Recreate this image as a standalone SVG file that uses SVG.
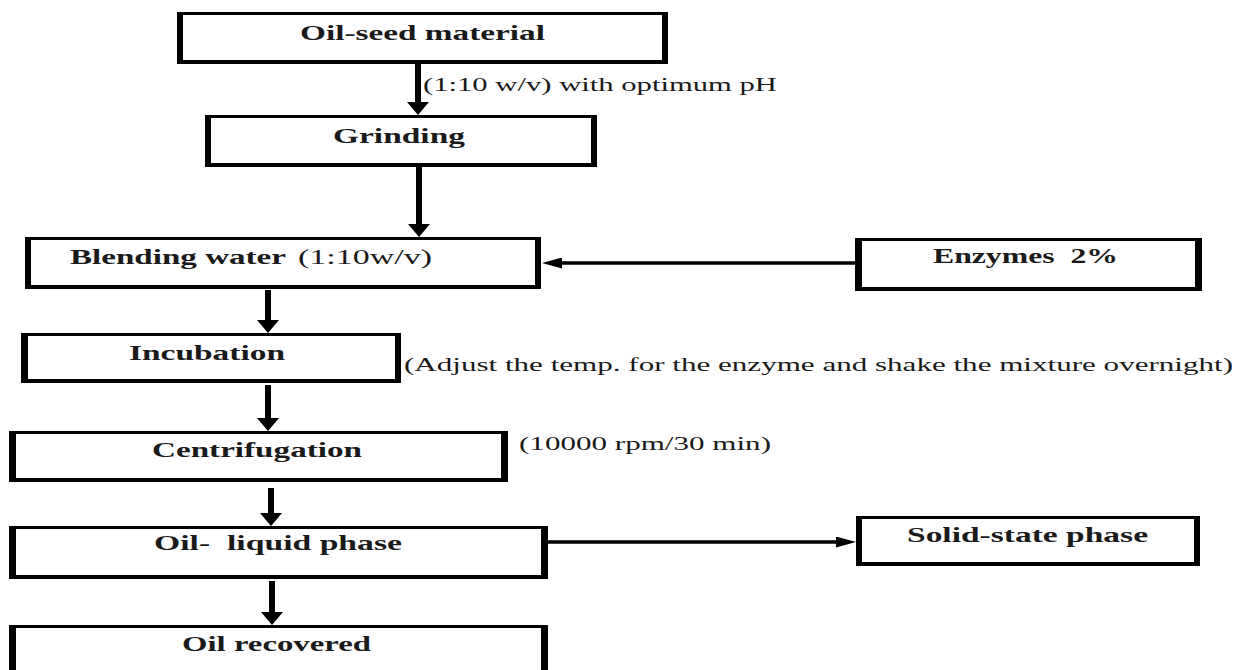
<svg xmlns="http://www.w3.org/2000/svg" width="1235" height="670" viewBox="0 0 1235 670">
  <style>
    .frame { fill: #000; fill-rule: evenodd; }
    .lbl { font-family: "Liberation Serif", "Times New Roman", serif; font-size: 22px; font-weight: bold; fill: #1a1a1a; }
    .note { font-family: "Liberation Serif", "Times New Roman", serif; font-size: 18px; font-weight: normal; fill: #1a1a1a; }
    .v { stroke: #000; stroke-width: 6; fill: none; }
    .h { stroke: #000; stroke-width: 3.5; fill: none; }
  </style>
  <defs>
    <marker id="headV" markerUnits="userSpaceOnUse" markerWidth="13" markerHeight="22" refX="1" refY="11" orient="auto">
      <path d="M0,0 L13,11 L0,22 Z" fill="#000"/>
    </marker>
    <marker id="headH" markerUnits="userSpaceOnUse" markerWidth="20" markerHeight="11" refX="1" refY="5.5" orient="auto">
      <path d="M0,0 L20,5.5 L0,11 Z" fill="#000"/>
    </marker>
  </defs>
  <rect x="0" y="0" width="1235" height="670" fill="#fff"/>

  <g id="connectors">
    <line class="v" x1="418" y1="64" x2="418" y2="103" marker-end="url(#headV)"/>
    <line class="v" x1="419" y1="167" x2="419" y2="225" marker-end="url(#headV)"/>
    <line class="v" x1="268" y1="290" x2="268" y2="321" marker-end="url(#headV)"/>
    <line class="v" x1="268" y1="385" x2="268" y2="419" marker-end="url(#headV)"/>
    <line class="v" x1="271" y1="488" x2="271" y2="514" marker-end="url(#headV)"/>
    <line class="v" x1="272" y1="581" x2="272" y2="613" marker-end="url(#headV)"/>
    <line class="h" x1="855" y1="263" x2="561" y2="263" marker-end="url(#headH)"/>
    <line class="h" x1="548" y1="542" x2="837" y2="542" marker-end="url(#headH)"/>
    <text class="note" x="423" y="91" textLength="354" lengthAdjust="spacingAndGlyphs">(1:10 w/v) with optimum pH</text>
    <text class="note" x="404" y="371" textLength="829" lengthAdjust="spacingAndGlyphs">(Adjust the temp. for the enzyme and shake the mixture overnight)</text>
    <text class="note" x="519" y="450" textLength="252" lengthAdjust="spacingAndGlyphs">(10000 rpm/30 min)</text>
  </g>

  <g id="oilseed">
    <path class="frame" d="M177,12 H668 V64 H177 Z M183,15 V60 H662 V15 Z"/>
    <text class="lbl" x="300" y="40" textLength="245" lengthAdjust="spacingAndGlyphs">Oil-seed material</text>
  </g>
  <g id="grinding">
    <path class="frame" d="M205,115 H597 V167 H205 Z M211,118 V163 H591 V118 Z"/>
    <text class="lbl" x="333" y="143" textLength="132" lengthAdjust="spacingAndGlyphs">Grinding</text>
  </g>
  <g id="blending">
    <path class="frame" d="M25,237 H541 V289 H25 Z M31,240 V285 H535 V240 Z"/>
    <text class="lbl" x="70" y="264" textLength="216" lengthAdjust="spacingAndGlyphs">Blending water</text>
    <text class="note" x="298" y="264" font-size="21" textLength="134" lengthAdjust="spacingAndGlyphs" style="font-size:21px">(1:10w/v)</text>
  </g>
  <g id="enzymes">
    <path class="frame" d="M855,238 H1202 V291 H855 Z M862,241 V287 H1195 V241 Z"/>
    <text class="lbl" x="933" y="263" textLength="185" lengthAdjust="spacingAndGlyphs" xml:space="preserve">Enzymes  2%</text>
  </g>
  <g id="incubation">
    <path class="frame" d="M21,333 H401 V383 H21 Z M28,336 V379 H395 V336 Z"/>
    <text class="lbl" x="129" y="360" textLength="156" lengthAdjust="spacingAndGlyphs">Incubation</text>
  </g>
  <g id="centrifugation">
    <path class="frame" d="M9,431 H508 V482 H9 Z M16,434 V478 H501 V434 Z"/>
    <text class="lbl" x="152" y="457" textLength="210" lengthAdjust="spacingAndGlyphs">Centrifugation</text>
  </g>
  <g id="oilliquid">
    <path class="frame" d="M9,526 H548 V579 H9 Z M16,529 V575 H541 V529 Z"/>
    <text class="lbl" x="154" y="550" textLength="248" lengthAdjust="spacingAndGlyphs" xml:space="preserve">Oil-  liquid phase</text>
  </g>
  <g id="solidstate">
    <path class="frame" d="M856,516 H1200 V566 H856 Z M862,519 V562 H1194 V519 Z"/>
    <text class="lbl" x="907" y="542" textLength="241" lengthAdjust="spacingAndGlyphs">Solid-state phase</text>
  </g>
  <g id="oilrecovered">
    <path class="frame" d="M9,625 H548 V700 H9 Z M16,628 V696 H541 V628 Z"/>
    <text class="lbl" x="182" y="651" textLength="189" lengthAdjust="spacingAndGlyphs">Oil recovered</text>
  </g>
</svg>
